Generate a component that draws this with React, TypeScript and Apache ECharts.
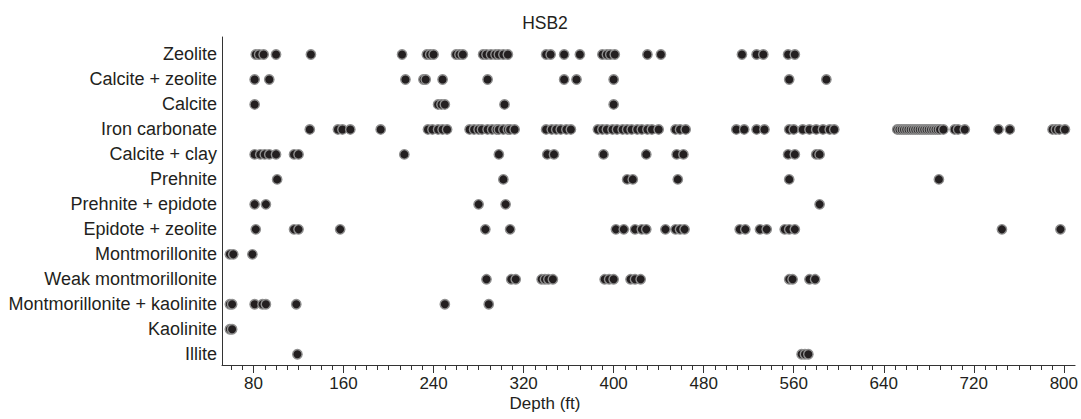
import React, { useEffect, useRef } from "react";
import * as echarts from "echarts";

const ROWS = [
  "Zeolite",
  "Calcite + zeolite",
  "Calcite",
  "Iron carbonate",
  "Calcite + clay",
  "Prehnite",
  "Prehnite + epidote",
  "Epidote + zeolite",
  "Montmorillonite",
  "Weak montmorillonite",
  "Montmorillonite + kaolinite",
  "Kaolinite",
  "Illite",
];

const zeolite = [82, 85, 89, 100, 131, 212, 234, 237, 240, 260, 263, 266, 284, 287, 291, 295, 298, 302, 306, 340, 344, 356, 370, 390, 394, 397, 401, 430, 442, 514, 527, 533, 555, 561];
const calciteZeolite = [81, 94, 215, 231, 233, 248, 288, 356, 367, 400, 556, 589];
const calcite = [81, 244, 247, 250, 303, 400];
const ironCarbonate = [130, 155, 159, 166, 193, 235, 239, 244, 248, 252, 272, 276, 280, 283, 288, 292, 296, 298, 302, 306, 308, 312, 340, 345, 349, 353, 358, 362, 386, 390, 394, 399, 403, 408, 412, 416, 421, 425, 430, 434, 440, 455, 459, 464, 509, 516, 527, 534, 556, 560, 568, 574, 580, 586, 592, 596, 652, 654, 656, 658, 660, 662, 664, 666, 668, 670, 672, 674, 676, 678, 680, 682, 684, 686, 688, 690, 693, 703, 706, 712, 742, 752, 790, 793, 796, 801];
const calciteClay = [81, 86, 90, 94, 100, 116, 120, 214, 298, 341, 347, 391, 429, 456, 462, 555, 561, 580, 583];
const prehnite = [101, 302, 412, 417, 457, 556, 689];
const prehniteEpidote = [81, 91, 280, 304, 583];
const epidoteZeolite = [82, 116, 120, 157, 286, 308, 402, 409, 419, 425, 429, 446, 455, 459, 463, 512, 517, 530, 536, 552, 556, 561, 745, 797];
const montmorillonite = [59, 62, 79];
const weakMontmorillonite = [287, 309, 313, 336, 339, 342, 346, 392, 396, 400, 415, 419, 424, 556, 559, 574, 579];
const montKaolinite = [59, 61, 81, 88, 91, 118, 250, 289];
const kaolinite = [59, 61];
const illite = [119, 567, 570, 573];

const ROW_VALUES = [
  zeolite,
  calciteZeolite,
  calcite,
  ironCarbonate,
  calciteClay,
  prehnite,
  prehniteEpidote,
  epidoteZeolite,
  montmorillonite,
  weakMontmorillonite,
  montKaolinite,
  kaolinite,
  illite,
];

const MAJOR_TICKS = [80, 160, 240, 320, 400, 480, 560, 640, 720, 800];
const MINOR_TICKS = [60, 70, 80, 90, 100, 110, 120, 130, 140, 150, 160, 170, 180, 190, 200, 210, 220, 230, 240, 250, 260, 270, 280, 290, 300, 310, 320, 330, 340, 350, 360, 370, 380, 390, 400, 410, 420, 430, 440, 450, 460, 470, 480, 490, 500, 510, 520, 530, 540, 550, 560, 570, 580, 590, 600, 610, 620, 630, 640, 650, 660, 670, 680, 690, 700, 710, 720, 730, 740, 750, 760, 770, 780, 790, 800];
const ROW_INDEX = [0, 1, 2, 3, 4, 5, 6, 7, 8, 9, 10, 11, 12];

const TEXT = "#231f20";
const AXIS = "#333333";

export default function App() {
  const ref = useRef<HTMLDivElement>(null);

  useEffect(() => {
    document.body.style.margin = "0";
    if (!ref.current) return;
    const chart = echarts.init(ref.current, null, { renderer: "svg" });
    const data: number[][] = [];
    ROW_VALUES.forEach((vals, i) => vals.forEach((v) => data.push([v, i])));

    chart.setOption({
      animation: false,
      backgroundColor: "#ffffff",
      textStyle: { fontFamily: "Liberation Sans" },
      grid: { left: 222, right: 1, top: 37, bottom: 54, containLabel: false },
      graphic: [
        {
          type: "text",
          x: 545,
          y: 23,
          style: {
            text: "HSB2",
            fill: TEXT,
            font: "17.5px 'Liberation Sans'",
            textAlign: "center",
            textVerticalAlign: "middle",
          },
        },
        {
          type: "text",
          x: 545,
          y: 403,
          style: {
            text: "Depth (ft)",
            fill: TEXT,
            font: "17px 'Liberation Sans'",
            textAlign: "center",
            textVerticalAlign: "middle",
          },
        },
      ],
      xAxis: [
        {
          type: "value",
          min: 52,
          max: 810,
          position: "bottom",
          axisLine: { show: true, onZero: false, lineStyle: { color: AXIS, width: 1 } },
          axisTick: { show: true, customValues: MINOR_TICKS, length: 5, lineStyle: { color: AXIS } },
          axisLabel: {
            customValues: MAJOR_TICKS,
            color: TEXT,
            fontSize: 17,
            margin: 10,
            fontFamily: "Liberation Sans",
          },
          splitLine: { show: false },
        },
        {
          type: "value",
          min: 52,
          max: 810,
          position: "bottom",
          axisLine: { show: false, onZero: false },
          axisTick: { show: true, customValues: MAJOR_TICKS, length: 8, lineStyle: { color: AXIS } },
          axisLabel: { show: false },
          splitLine: { show: false },
        },
      ],
      yAxis: {
        type: "value",
        inverse: true,
        min: -0.7,
        max: 12.43,
        axisLine: { show: true, onZero: false, lineStyle: { color: AXIS, width: 1 } },
        axisTick: { show: false },
        splitLine: { show: false },
        axisLabel: {
          customValues: ROW_INDEX,
          formatter: (v: number) => ROWS[Math.round(v)] ?? "",
          color: TEXT,
          fontSize: 18,
          margin: 5,
          fontFamily: "Liberation Sans",
        },
      },
      series: [
        {
          type: "scatter",
          xAxisIndex: 0,
          data,
          symbol: "circle",
          symbolSize: 9.4,
          itemStyle: { color: "#231f20", borderColor: "#8f8f8f", borderWidth: 1.4, opacity: 1 },
          emphasis: { disabled: true },
          silent: true,
        },
      ],
    });
    return () => chart.dispose();
  }, []);

  return <div ref={ref} style={{ width: 1081, height: 419 }} />;
}
